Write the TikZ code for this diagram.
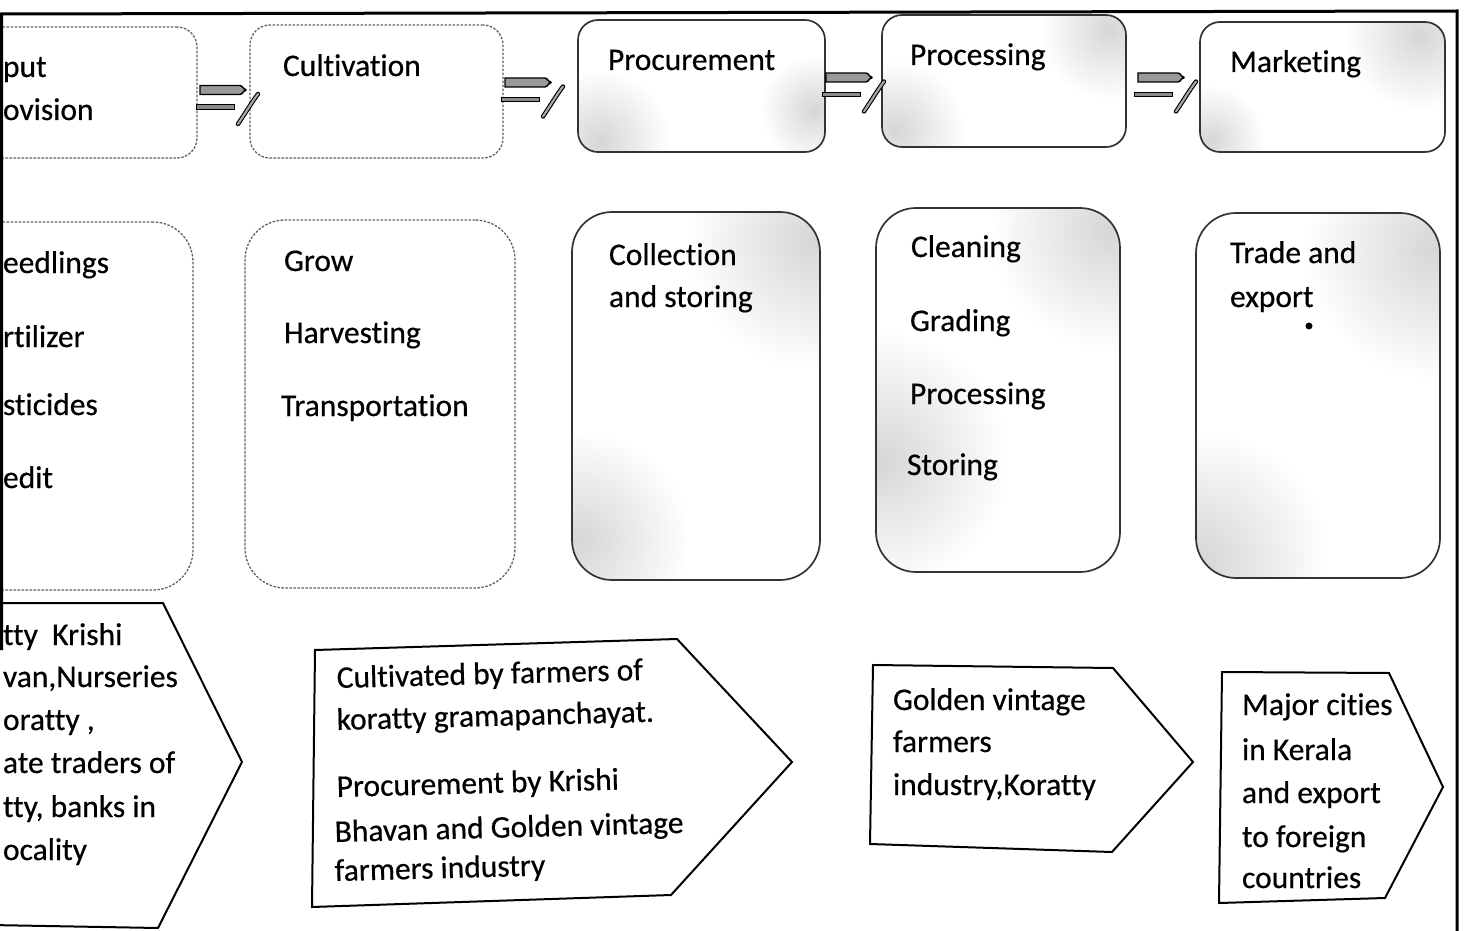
\documentclass[tikz,border=0pt]{standalone}
\usepackage{fontspec}
\setmainfont{Carlito}[FakeBold=0.5, Ligatures={NoCommon,NoContextual}, RawFeature={-liga;-clig;-calt;-dlig}]
\usetikzlibrary{calc,backgrounds,fadings}

\tikzfading[name=softblob, inner color=transparent!0, outer color=transparent!100]

\begin{document}
\begin{tikzpicture}[x=1pt,y=-1pt,
  every node/.style={inner sep=0pt, outer sep=0pt},
  lbl/.style={anchor=base west, font=\fontsize{31.5}{37}\selectfont},
  faintedge/.style={draw=black!62, line width=1.3pt, dash pattern=on 2.5pt off 1.5pt},
  darkedge/.style={draw=black!80, line width=1.7pt},
  headbox/.style={rounded corners=20pt},
  bodybox/.style={rounded corners=40pt},
  tag/.style={draw=black, line width=2pt, line join=miter},
  speck/.style={fill=black!16, path fading=softblob},
  relay/.pic={
    % upper block arrow
    \draw[line width=1.4pt, fill=black!40]
      (0,-4.5) -- (40,-4.5) to[out=0,in=-90] (46,0) to[out=90,in=0] (40,4.5) -- (0,4.5) -- cycle;
    % lower bar
    \draw[line width=1pt, fill=black!45] (-4,15) rectangle (34,19.5);
    % slanted stroke
    \draw[line width=1.1pt, double=black!35, double distance=2.2pt, line cap=round]
      (58,4) .. controls (52,12) and (46,22) .. (38,34);
  }
]
\useasboundingbox (0,0) rectangle (1473,931);

\begin{scope}
\clip (0,0) rectangle (1473,931);

% ---- stage headers ----
\node[headbox, faintedge, minimum width=257pt, minimum height=131pt] (t1) at (68.5,92.5) {};
\node[headbox, faintedge, minimum width=253pt, minimum height=133pt] (t2) at (376.5,91.5) {};
\node[headbox, darkedge, minimum width=247pt, minimum height=132pt] (t3) at (701.5,86) {};
\node[headbox, darkedge, minimum width=244pt, minimum height=132pt] (t4) at (1004,81) {};
\node[headbox, darkedge, minimum width=245pt, minimum height=130pt] (t5) at (1322.5,87) {};

% ---- stage activities ----
\node[bodybox, faintedge, minimum width=253pt, minimum height=368pt] (m1) at (66.5,406) {};
\node[bodybox, faintedge, minimum width=270pt, minimum height=368pt] (m2) at (380,404) {};
\node[bodybox, darkedge, minimum width=248pt, minimum height=368pt] (m3) at (696,396) {};
\node[bodybox, darkedge, minimum width=244pt, minimum height=364pt] (m4) at (998,390) {};
\node[bodybox, darkedge, minimum width=244pt, minimum height=365pt] (m5) at (1318,395.5) {};

% light grey speckle inside the printed boxes
\begin{pgfonlayer}{background}
  \begin{scope}
    \clip[headbox] (t3.south west) rectangle (t3.north east);
    \fill[speck] (600,140) circle (70);
    \fill[speck] (815,110) circle (55);
  \end{scope}
  \begin{scope}
    \clip[headbox] (t4.south west) rectangle (t4.north east);
    \fill[speck] (895,130) circle (70);
    \fill[speck] (1110,30) circle (70);
  \end{scope}
  \begin{scope}
    \clip[headbox] (t5.south west) rectangle (t5.north east);
    \fill[speck] (1420,35) circle (75);
    \fill[speck] (1210,140) circle (55);
  \end{scope}
  \begin{scope}
    \clip[bodybox] (m3.south west) rectangle (m3.north east);
    \fill[speck] (815,240) circle (130);
    \fill[speck] (580,540) circle (110);
  \end{scope}
  \begin{scope}
    \clip[bodybox] (m4.south west) rectangle (m4.north east);
    \fill[speck] (880,460) circle (130);
    \fill[speck] (1110,230) circle (120);
  \end{scope}
  \begin{scope}
    \clip[bodybox] (m5.south west) rectangle (m5.north east);
    \fill[speck] (1435,250) circle (130);
    \fill[speck] (1200,560) circle (130);
  \end{scope}
\end{pgfonlayer}

% ---- links between the headers ----
\pic at ($(t1.east)+(3,-2.5)$) {relay};
\pic at ($(t2.east)+(2,-9)$) {relay};
\pic at ($(t3.east)+(1,-8.5)$) {relay};
\pic at ($(t4.east)+(12,-3.5)$) {relay};

% ---- header texts ----
\node[lbl] (t1a) at (3,77) {put};
\node[lbl] (t1b) at (3,120) {ovision};
\node[lbl] (t2a) at (283,76) {Cultivation};
\node[lbl] (t3a) at (608,70) {Procurement};
\node[lbl] (t4a) at (910,65) {Processing};
\node[lbl] (t5a) at (1230,72) {Marketing};

% ---- activity texts ----
\node[lbl] (m1a) at (3,273) {eedlings};
\node[lbl] (m1b) at (3,347) {rtilizer};
\node[lbl] (m1c) at (3,415) {sticides};
\node[lbl] (m1d) at (3,488) {edit};

\node[lbl] (m2a) at (284,271) {Grow};
\node[lbl] (m2b) at (284,343) {Harvesting};
\node[lbl] (m2c) at (281,416) {Transportation};

\node[lbl] (m3a) at (609,265) {Collection};
\node[lbl] (m3b) at (609,307) {and storing};

\node[lbl] (m4a) at (911,257) {Cleaning};
\node[lbl] (m4b) at (910,331) {Grading};
\node[lbl] (m4c) at (910,404) {Processing};
\node[lbl] (m4d) at (907,475) {Storing};

\node[lbl] (m5a) at (1230,263) {Trade and};
\node[lbl] (m5b) at (1230,307) {export};
\fill (1309,326) circle (3.5);

% ---- actor tags ----
\coordinate (p1a) at (-10,603);
\coordinate (p1b) at (163,603);
\coordinate (p1c) at (242,762);
\coordinate (p1d) at (158,928);
\coordinate (p1e) at (-10,925);
\draw[tag] (p1a) -- (p1b) -- (p1c) -- (p1d) -- (p1e);

\coordinate (p2a) at (315,650);
\coordinate (p2b) at (677,639);
\coordinate (p2c) at (792,762);
\coordinate (p2d) at (671,895);
\coordinate (p2e) at (312,907);
\draw[tag] (p2a) -- (p2b) -- (p2c) -- (p2d) -- (p2e) -- cycle;

\coordinate (p3a) at (873,665);
\coordinate (p3b) at (1113,668);
\coordinate (p3c) at (1193,762);
\coordinate (p3d) at (1112,852);
\coordinate (p3e) at (870,844);
\draw[tag] (p3a) -- (p3b) -- (p3c) -- (p3d) -- (p3e) -- cycle;

\coordinate (p4a) at (1222,672);
\coordinate (p4b) at (1389,673);
\coordinate (p4c) at (1443,787);
\coordinate (p4d) at (1385,898);
\coordinate (p4e) at (1219,903);
\draw[tag] (p4a) -- (p4b) -- (p4c) -- (p4d) -- (p4e) -- cycle;

% ---- actor texts ----
\node[lbl] (p1t1) at (3,645) {tty\ \ Krishi};
\node[lbl] (p1t2) at (3,687) {van,Nurseries};
\node[lbl] (p1t3) at (3,730) {oratty ,};
\node[lbl] (p1t4) at (3,773) {ate traders of};
\node[lbl] (p1t5) at (3,817) {tty, banks in};
\node[lbl] (p1t6) at (3,860) {ocality};

\node[lbl, rotate=1.5] (p2t1) at (337,688) {Cultivated by farmers of};
\node[lbl, rotate=1.5] (p2t2) at (337,730) {koratty gramapanchayat.};
\node[lbl, rotate=1.5] (p2t3) at (337,797) {Procurement by Krishi};
\node[lbl, rotate=1.5] (p2t4) at (335,842) {Bhavan and Golden vintage};
\node[lbl, rotate=1.5] (p2t5) at (335,881) {farmers industry};

\node[lbl] (p3t1) at (893,710) {Golden vintage};
\node[lbl] (p3t2) at (893,752) {farmers};
\node[lbl] (p3t3) at (893,795) {industry,Koratty};

\node[lbl] (p4t1) at (1242,715) {Major cities};
\node[lbl] (p4t2) at (1242,760) {in Kerala};
\node[lbl] (p4t3) at (1242,803) {and export};
\node[lbl] (p4t4) at (1242,847) {to foreign};
\node[lbl] (p4t5) at (1242,888) {countries};

% ---- page frame ----
\coordinate (fa) at (1.5,650);
\coordinate (fb) at (1.5,14);
\coordinate (fc) at (1457,11);
\coordinate (fd) at (1457,931);
\draw[line width=3pt, line join=miter] (fa) -- (fb) -- (fc) -- (fd);
\end{scope}
\end{tikzpicture}
\end{document}
